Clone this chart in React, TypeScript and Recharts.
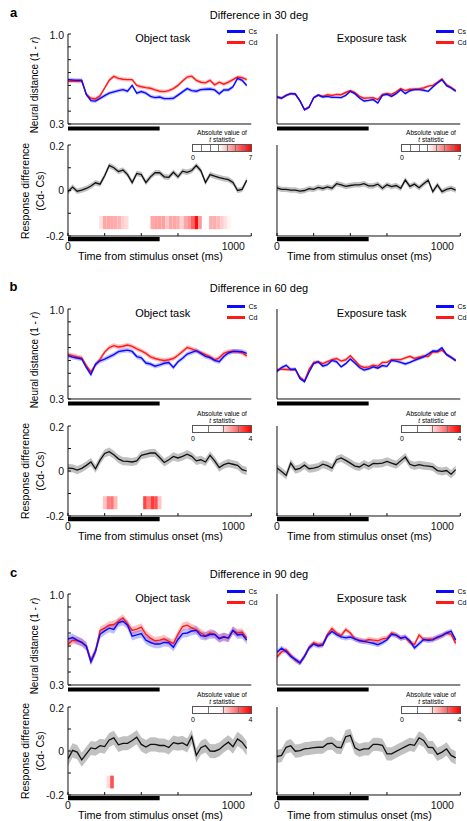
import React from 'react';
import { ComposedChart, Area, Line, XAxis, YAxis, ReferenceArea } from 'recharts';

// time bins (ms after stimulus onset)
const TIME_MS = [0, 25, 50, 75, 100, 125, 150, 175, 200, 225, 250, 275, 300, 325, 350, 375, 400, 425, 450, 475, 500, 525, 550, 575, 600, 625, 650, 675, 700, 725, 750, 775, 800, 825, 850, 875, 900, 925, 950, 975];
const TIME_TICKS = [0, 200, 400, 600, 800, 1000];
const TIME_LABELS = [0, 1000];
const DIST_TICKS = [0.3, 0.4, 0.5, 0.6, 0.7, 0.8, 0.9, 1.0];
const DIST_LABELS = ['0.3', '1.0'];
const DIFF_TICKS = [-0.2, -0.1, 0, 0.1, 0.2];
const DIFF_LABELS = ['-0.2', '0', '0.2'];
const STIM_MS = [0, 500];
const CELL_MS = 20;

// a: difference in 30 deg
const A_OBJ_CS = [0.645, 0.642, 0.640, 0.640, 0.530, 0.482, 0.478, 0.500, 0.520, 0.540, 0.550, 0.560, 0.567, 0.555, 0.600, 0.540, 0.552, 0.540, 0.515, 0.505, 0.510, 0.497, 0.497, 0.500, 0.525, 0.550, 0.575, 0.560, 0.555, 0.567, 0.570, 0.572, 0.565, 0.535, 0.565, 0.565, 0.590, 0.655, 0.640, 0.600];
const A_OBJ_CD = [0.632, 0.635, 0.632, 0.632, 0.530, 0.500, 0.495, 0.520, 0.580, 0.640, 0.670, 0.655, 0.648, 0.645, 0.645, 0.600, 0.590, 0.583, 0.578, 0.565, 0.555, 0.552, 0.560, 0.575, 0.600, 0.635, 0.665, 0.672, 0.640, 0.625, 0.620, 0.640, 0.605, 0.625, 0.610, 0.625, 0.645, 0.665, 0.660, 0.645];
const A_EXP_CS = [0.510, 0.500, 0.523, 0.536, 0.533, 0.480, 0.410, 0.430, 0.505, 0.525, 0.510, 0.515, 0.507, 0.507, 0.505, 0.523, 0.554, 0.536, 0.502, 0.479, 0.484, 0.490, 0.463, 0.523, 0.531, 0.515, 0.536, 0.567, 0.536, 0.559, 0.567, 0.567, 0.562, 0.554, 0.588, 0.619, 0.645, 0.598, 0.580, 0.555];
const A_EXP_CD = [0.510, 0.502, 0.523, 0.536, 0.533, 0.482, 0.413, 0.432, 0.505, 0.525, 0.515, 0.528, 0.522, 0.530, 0.528, 0.545, 0.560, 0.545, 0.515, 0.500, 0.503, 0.505, 0.490, 0.530, 0.538, 0.530, 0.550, 0.575, 0.560, 0.570, 0.572, 0.575, 0.580, 0.595, 0.600, 0.625, 0.650, 0.605, 0.585, 0.560];
const A_OBJ_DIFF = [-0.005, 0.015, -0.003, 0.002, 0.009, 0.020, 0.034, 0.028, 0.065, 0.110, 0.100, 0.083, 0.090, 0.070, 0.035, 0.075, 0.070, 0.035, 0.060, 0.078, 0.078, 0.060, 0.058, 0.080, 0.060, 0.085, 0.080, 0.088, 0.110, 0.087, 0.035, 0.070, 0.063, 0.057, 0.052, 0.048, 0.035, 0.000, 0.005, 0.045];
const A_EXP_DIFF = [0.012, 0.005, 0.005, 0.002, 0.002, -0.003, 0.000, 0.008, 0.005, 0.014, 0.009, 0.016, 0.010, 0.030, 0.025, 0.018, 0.022, 0.025, 0.025, 0.030, 0.020, 0.020, 0.028, 0.010, 0.025, 0.017, 0.022, 0.010, 0.046, 0.018, 0.028, 0.012, 0.030, 0.045, -0.005, 0.025, -0.005, 0.005, 0.010, 0.002];
const A_OBJ_SEM = [0.015, 0.015, 0.012]; // Cs, Cd, difference
const A_EXP_SEM = [0.011, 0.011, 0.012];
const A_OBJ_HEAT_START = [170, 190, 210, 230, 250, 270, 290, 310, 450, 470, 490, 510, 530, 550, 570, 590, 610, 630, 650, 670, 690, 710, 770, 790, 810, 830, 850, 870];
const A_OBJ_HEAT_T = [3.6, 4.5, 4.5, 4.5, 4.4, 4.3, 3.9, 3.7, 4.5, 4.6, 4.6, 4.6, 4.0, 4.5, 4.5, 4.4, 3.8, 4.5, 4.8, 5.5, 6.8, 4.7, 4.4, 4.4, 4.2, 3.9, 3.6, 3.3];
const A_T_MAX = 7;

// b: difference in 60 deg
const B_OBJ_CS = [0.637, 0.626, 0.619, 0.611, 0.545, 0.490, 0.570, 0.597, 0.610, 0.628, 0.645, 0.668, 0.675, 0.680, 0.670, 0.630, 0.620, 0.580, 0.572, 0.555, 0.565, 0.578, 0.583, 0.545, 0.590, 0.617, 0.650, 0.662, 0.676, 0.655, 0.632, 0.622, 0.600, 0.590, 0.630, 0.658, 0.670, 0.670, 0.668, 0.655];
const B_OBJ_CD = [0.645, 0.637, 0.628, 0.620, 0.560, 0.510, 0.565, 0.610, 0.665, 0.700, 0.715, 0.705, 0.710, 0.720, 0.710, 0.690, 0.675, 0.655, 0.628, 0.615, 0.605, 0.600, 0.605, 0.615, 0.640, 0.670, 0.700, 0.690, 0.675, 0.660, 0.645, 0.628, 0.605, 0.620, 0.655, 0.668, 0.671, 0.670, 0.660, 0.635];
const B_EXP_CS = [0.515, 0.545, 0.562, 0.530, 0.533, 0.460, 0.435, 0.510, 0.575, 0.590, 0.556, 0.567, 0.600, 0.590, 0.550, 0.575, 0.611, 0.580, 0.545, 0.525, 0.535, 0.550, 0.540, 0.560, 0.554, 0.600, 0.595, 0.585, 0.572, 0.585, 0.600, 0.615, 0.627, 0.650, 0.673, 0.672, 0.698, 0.645, 0.624, 0.598];
const B_EXP_CD = [0.528, 0.532, 0.530, 0.528, 0.528, 0.470, 0.440, 0.530, 0.585, 0.590, 0.575, 0.590, 0.605, 0.615, 0.595, 0.605, 0.637, 0.600, 0.560, 0.545, 0.550, 0.563, 0.555, 0.585, 0.585, 0.605, 0.606, 0.606, 0.620, 0.632, 0.615, 0.625, 0.635, 0.630, 0.665, 0.665, 0.680, 0.647, 0.625, 0.601];
const B_OBJ_DIFF = [0.013, 0.012, 0.004, 0.012, 0.025, 0.040, 0.010, 0.048, 0.078, 0.086, 0.072, 0.054, 0.044, 0.043, 0.040, 0.045, 0.070, 0.075, 0.080, 0.080, 0.060, 0.038, 0.050, 0.065, 0.058, 0.065, 0.075, 0.065, 0.045, 0.050, 0.040, 0.070, 0.045, 0.015, 0.028, 0.035, 0.030, 0.025, 0.006, 0.000];
const B_EXP_DIFF = [0.013, -0.002, -0.020, 0.035, 0.006, 0.012, 0.026, 0.010, 0.013, 0.018, 0.030, 0.024, 0.013, 0.050, 0.058, 0.047, 0.035, 0.022, 0.018, 0.031, 0.021, 0.034, 0.033, 0.035, 0.043, 0.035, 0.028, 0.045, 0.062, 0.030, 0.023, 0.028, 0.024, 0.022, 0.018, 0.002, -0.002, 0.002, -0.014, 0.006];
const B_OBJ_SEM = [0.018, 0.018, 0.018];
const B_EXP_SEM = [0.013, 0.013, 0.018];
const B_OBJ_HEAT_START = [190, 210, 230, 250, 410, 430, 450, 470, 490];
const B_OBJ_HEAT_T = [2.3, 2.9, 3.0, 2.4, 3.4, 2.9, 3.5, 3.3, 2.3];
const B_T_MAX = 4;

// c: difference in 90 deg
const C_OBJ_CS = [0.654, 0.665, 0.645, 0.628, 0.598, 0.478, 0.560, 0.690, 0.716, 0.737, 0.727, 0.780, 0.790, 0.760, 0.675, 0.685, 0.695, 0.645, 0.627, 0.615, 0.615, 0.628, 0.625, 0.590, 0.650, 0.695, 0.700, 0.715, 0.720, 0.680, 0.675, 0.688, 0.688, 0.657, 0.669, 0.661, 0.720, 0.685, 0.690, 0.645];
const C_OBJ_CD = [0.611, 0.645, 0.640, 0.628, 0.598, 0.490, 0.560, 0.720, 0.738, 0.760, 0.765, 0.790, 0.815, 0.770, 0.720, 0.730, 0.745, 0.690, 0.660, 0.640, 0.645, 0.655, 0.635, 0.620, 0.690, 0.750, 0.760, 0.740, 0.725, 0.700, 0.678, 0.700, 0.692, 0.660, 0.674, 0.660, 0.720, 0.700, 0.705, 0.660];
const C_EXP_CS = [0.552, 0.583, 0.557, 0.520, 0.497, 0.470, 0.520, 0.585, 0.615, 0.600, 0.607, 0.680, 0.712, 0.688, 0.670, 0.663, 0.669, 0.655, 0.640, 0.636, 0.628, 0.621, 0.610, 0.626, 0.648, 0.690, 0.684, 0.660, 0.669, 0.640, 0.586, 0.618, 0.650, 0.643, 0.647, 0.668, 0.680, 0.700, 0.715, 0.645];
const C_EXP_CD = [0.516, 0.555, 0.570, 0.530, 0.490, 0.470, 0.520, 0.590, 0.625, 0.610, 0.615, 0.690, 0.735, 0.700, 0.680, 0.727, 0.700, 0.655, 0.645, 0.635, 0.650, 0.645, 0.640, 0.655, 0.660, 0.700, 0.684, 0.660, 0.668, 0.625, 0.612, 0.684, 0.650, 0.652, 0.655, 0.662, 0.680, 0.700, 0.690, 0.620];
const C_OBJ_DIFF = [-0.036, 0.003, -0.005, -0.040, -0.013, 0.014, 0.010, 0.024, 0.020, 0.050, 0.060, 0.028, 0.035, 0.035, 0.048, 0.063, 0.030, 0.018, 0.030, 0.030, 0.025, 0.025, 0.016, 0.038, 0.033, 0.037, 0.025, 0.065, -0.020, 0.015, 0.025, 0.000, -0.001, 0.007, 0.025, 0.040, 0.020, 0.055, 0.040, 0.012];
const C_EXP_DIFF = [-0.025, -0.020, 0.017, 0.024, -0.001, 0.002, 0.010, 0.012, 0.015, 0.017, 0.017, 0.033, 0.036, 0.018, 0.015, 0.065, 0.071, 0.015, 0.003, 0.010, 0.010, 0.030, 0.030, 0.026, -0.013, -0.013, -0.002, 0.009, 0.020, 0.030, 0.026, 0.060, 0.048, 0.017, 0.015, -0.015, -0.005, 0.010, -0.020, -0.031];
const C_OBJ_SEM = [0.032, 0.030, 0.032];
const C_EXP_SEM = [0.020, 0.020, 0.030];
const C_OBJ_HEAT_START = [210, 230];
const C_OBJ_HEAT_T = [2.1, 3.3];
const C_T_MAX = 4;

const FONT = '"Liberation Sans", Arial, Helvetica, sans-serif';
const INK = '#111';
const BLUE = '#0a0aff';
const RED = '#ff1a1a';
const HEAT_WHITE = 0.45; // fraction of the colour scale that stays white

const ROWS = [
  {
    letter: 'a', title: 'Difference in 30 deg', tMax: A_T_MAX,
    panels: [
      { cs: A_OBJ_CS, cd: A_OBJ_CD, diff: A_OBJ_DIFF, sem: A_OBJ_SEM, heatStart: A_OBJ_HEAT_START, heatT: A_OBJ_HEAT_T },
      { cs: A_EXP_CS, cd: A_EXP_CD, diff: A_EXP_DIFF, sem: A_EXP_SEM, heatStart: [], heatT: [] },
    ],
  },
  {
    letter: 'b', title: 'Difference in 60 deg', tMax: B_T_MAX,
    panels: [
      { cs: B_OBJ_CS, cd: B_OBJ_CD, diff: B_OBJ_DIFF, sem: B_OBJ_SEM, heatStart: B_OBJ_HEAT_START, heatT: B_OBJ_HEAT_T },
      { cs: B_EXP_CS, cd: B_EXP_CD, diff: B_EXP_DIFF, sem: B_EXP_SEM, heatStart: [], heatT: [] },
    ],
  },
  {
    letter: 'c', title: 'Difference in 90 deg', tMax: C_T_MAX,
    panels: [
      { cs: C_OBJ_CS, cd: C_OBJ_CD, diff: C_OBJ_DIFF, sem: C_OBJ_SEM, heatStart: C_OBJ_HEAT_START, heatT: C_OBJ_HEAT_T },
      { cs: C_EXP_CS, cd: C_EXP_CD, diff: C_EXP_DIFF, sem: C_EXP_SEM, heatStart: [], heatT: [] },
    ],
  },
];

// page layout (plot rectangles in px)
const COLS = [
  { x0: 67.7, x1: 251, task: 'Object task', yLabels: true },
  { x0: 276.7, x1: 460, task: 'Exposure task', yLabels: false },
];
const ROW_Y = [
  { title: 15, letter: 11.5, top: [34, 124], bottom: [145, 236] },
  { title: 288, letter: 286, top: [309, 399], bottom: [426, 516] },
  { title: 574, letter: 571.5, top: [594, 685], bottom: [707, 795] },
];
const YW = 34;
const PAD = 4;

function frame(x0: number, x1: number, y0: number, y1: number, xh: number) {
  return {
    left: x0 - YW - PAD,
    top: y0 - PAD,
    width: x1 - x0 + YW + 2 * PAD,
    height: y1 - y0 + xh + 2 * PAD,
    margin: { top: PAD, right: PAD, bottom: PAD, left: PAD },
  };
}

function heatColor(t: number, max: number) {
  const f = Math.min(1, Math.max(0, (t / max - HEAT_WHITE) / (1 - HEAT_WHITE)));
  const g = Math.round(255 * (1 - f));
  return `rgb(255,${g},${g})`;
}

const fmt = (v: number) => (Math.abs(v) < 1e-9 ? '0' : v.toFixed(1));

function Txt({ x, y, size, children, rotate, weight, anchor }: any) {
  const tx = anchor === 'start' ? '0' : '-50%';
  return (
    <div
      style={{
        position: 'absolute', left: x, top: y, fontSize: size, fontWeight: weight,
        lineHeight: 1, whiteSpace: 'nowrap',
        transform: `translate(${tx},-50%)${rotate ? ' rotate(-90deg)' : ''}`,
      }}
    >
      {children}
    </div>
  );
}

function DistanceChart({ col, yr, p }: any) {
  const rows = TIME_MS.map((t, i) => ({
    t,
    cs: p.cs[i],
    cd: p.cd[i],
    csBand: [p.cs[i] - p.sem[0], p.cs[i] + p.sem[0]],
    cdBand: [p.cd[i] - p.sem[1], p.cd[i] + p.sem[1]],
  }));
  const f = frame(col.x0, col.x1, yr[0], yr[1], 12);
  const perPx = (DIST_TICKS[DIST_TICKS.length - 1] - DIST_TICKS[0]) / (yr[1] - yr[0]);
  return (
    <div style={{ position: 'absolute', left: f.left, top: f.top }}>
      <ComposedChart width={f.width} height={f.height} data={rows} margin={f.margin}>
        <XAxis dataKey="t" type="number" domain={[0, 1000]} ticks={TIME_TICKS} tick={false}
          tickSize={-3} height={12} axisLine={{ stroke: INK }} tickLine={{ stroke: INK }} allowDataOverflow />
        <YAxis type="number" domain={[0.3, 1]} ticks={DIST_TICKS} width={YW} tickSize={-3} tickMargin={7}
          axisLine={{ stroke: INK }} tickLine={{ stroke: INK }} allowDataOverflow
          tick={col.yLabels ? { fill: INK, fontSize: 10.5 } : false}
          tickFormatter={(v: number) => (DIST_LABELS.includes(fmt(v)) ? fmt(v) : '')} />
        <Area type="linear" dataKey="cdBand" stroke="none" fill={RED} fillOpacity={0.28} isAnimationActive={false} />
        <Area type="linear" dataKey="csBand" stroke="none" fill={BLUE} fillOpacity={0.26} isAnimationActive={false} />
        <Line type="linear" dataKey="cd" stroke={RED} strokeWidth={1.4} dot={false} activeDot={false} isAnimationActive={false} />
        <Line type="linear" dataKey="cs" stroke={BLUE} strokeWidth={1.4} dot={false} activeDot={false} isAnimationActive={false} />
        <ReferenceArea x1={STIM_MS[0]} x2={STIM_MS[1]} y1={0.3 - 2.5 * perPx} y2={0.3 - 6.5 * perPx}
          fill="#000" fillOpacity={1} stroke="none" ifOverflow="visible" />
      </ComposedChart>
    </div>
  );
}

const timeTick = (props: any) => {
  const { x, y, payload } = props;
  const v = payload.value;
  if (!TIME_LABELS.includes(v)) return <g />;
  return (
    <text x={x + (v === 1000 ? -6 : 0)} y={y} dy="0.71em" textAnchor="middle" fontSize={10.5} fill={INK}>
      {v}
    </text>
  );
};

function DiffChart({ col, yr, p, tMax }: any) {
  const rows = TIME_MS.map((t, i) => ({ t, d: p.diff[i], band: [p.diff[i] - p.sem[2], p.diff[i] + p.sem[2]] }));
  const f = frame(col.x0, col.x1, yr[0], yr[1], 24);
  const perPx = 0.4 / (yr[1] - yr[0]);
  return (
    <div style={{ position: 'absolute', left: f.left, top: f.top }}>
      <ComposedChart width={f.width} height={f.height} data={rows} margin={f.margin}>
        <XAxis dataKey="t" type="number" domain={[0, 1000]} ticks={TIME_TICKS} tick={timeTick}
          tickSize={-3} tickMargin={10} height={24} axisLine={{ stroke: INK }} tickLine={{ stroke: INK }} allowDataOverflow />
        <YAxis type="number" domain={[-0.2, 0.2]} ticks={DIFF_TICKS} width={YW} tickSize={-3} tickMargin={7}
          axisLine={{ stroke: INK }} tickLine={{ stroke: INK }} allowDataOverflow
          tick={col.yLabels ? { fill: INK, fontSize: 10.5 } : false}
          tickFormatter={(v: number) => (DIFF_LABELS.includes(fmt(v)) ? fmt(v) : '')} />
        {p.heatStart.map((s: number, i: number) => (
          <ReferenceArea key={s} x1={s} x2={s + CELL_MS} y1={-0.17} y2={-0.112}
            fill={heatColor(p.heatT[i], tMax)} fillOpacity={1} stroke="none" />
        ))}
        <Area type="linear" dataKey="band" stroke="none" fill="#bababa" fillOpacity={0.9} isAnimationActive={false} />
        <Line type="linear" dataKey="d" stroke={INK} strokeWidth={1.3} dot={false} activeDot={false} isAnimationActive={false} />
        <ReferenceArea x1={STIM_MS[0]} x2={STIM_MS[1]} y1={-0.2 - 1 * perPx} y2={-0.2 - 5.2 * perPx}
          fill="#000" fillOpacity={1} stroke="none" ifOverflow="visible" />
      </ComposedChart>
    </div>
  );
}

function SeriesLegend({ x1, y0 }: any) {
  const items = [
    { name: 'Cs', color: BLUE, dy: -3 },
    { name: 'Cd', color: RED, dy: 8 },
  ];
  return (
    <>
      {items.map((it) => (
        <React.Fragment key={it.name}>
          <div style={{ position: 'absolute', left: x1 - 24.5, top: y0 + it.dy - 1.5, width: 18.5, height: 3, background: it.color }} />
          <Txt x={x1 - 2.5} y={y0 + it.dy} size={7} anchor="start">{it.name}</Txt>
        </React.Fragment>
      ))}
    </>
  );
}

function ColorBar({ x1, y0, max }: any) {
  const left = x1 - 59;
  const w = 60;
  const ticks = Array.from({ length: max - 1 }, (_, i) => i + 1);
  return (
    <>
      <Txt x={left + w / 2} y={y0 - 12} size={6.5}>Absolute value of</Txt>
      <Txt x={left + w / 2} y={y0 - 4.8} size={6.5}><i>t</i> statistic</Txt>
      <div
        style={{
          position: 'absolute', left, top: y0 - 1, width: w, height: 7.5, boxSizing: 'border-box',
          border: '0.8px solid #555',
          background: `linear-gradient(to right, #fff 0%, #fff ${HEAT_WHITE * 100}%, rgb(255,0,0) 100%)`,
        }}
      >
        {ticks.map((k) => (
          <div key={k} style={{ position: 'absolute', left: (k / max) * w - 0.5, top: 0, height: '100%', borderLeft: '0.8px dashed #777' }} />
        ))}
      </div>
      <Txt x={left + 1} y={y0 + 11.5} size={7}>0</Txt>
      <Txt x={left + w - 1.5} y={y0 + 11.5} size={7}>{max}</Txt>
    </>
  );
}

function FigureRow({ row, ry }: any) {
  return (
    <>
      <Txt x={13.5} y={ry.letter} size={13} weight="bold">{row.letter}</Txt>
      <Txt x={259} y={ry.title} size={11}>{row.title}</Txt>
      {COLS.map((col, ci) => {
        const p = row.panels[ci];
        return (
          <React.Fragment key={ci}>
            <DistanceChart col={col} yr={ry.top} p={p} />
            <DiffChart col={col} yr={ry.bottom} p={p} tMax={row.tMax} />
            <Txt x={col.x0 + 95} y={ry.top[0] + 4} size={11}>{col.task}</Txt>
            <SeriesLegend x1={col.x1} y0={ry.top[0]} />
            <ColorBar x1={col.x1} y0={ry.bottom[0]} max={row.tMax} />
            <Txt x={(col.x0 + col.x1) / 2 - 9} y={ry.bottom[1] + 19.5} size={10.8}>Time from stimulus onset (ms)</Txt>
            {col.yLabels && (
              <>
                <Txt x={35} y={(ry.top[0] + ry.top[1]) / 2 + 6} size={10} rotate>
                  Neural distance (1 - <i>r</i>)
                </Txt>
                <Txt x={25} y={(ry.bottom[0] + ry.bottom[1]) / 2} size={10.5} rotate>Response difference</Txt>
                <Txt x={39.5} y={(ry.bottom[0] + ry.bottom[1]) / 2} size={10.5} rotate>(Cd- Cs)</Txt>
              </>
            )}
          </React.Fragment>
        );
      })}
    </>
  );
}

export default function App() {
  return (
    <div
      style={{
        position: 'absolute', left: 0, top: 0, width: 467, height: 821, overflow: 'hidden',
        background: '#fff', fontFamily: FONT, color: '#000',
      }}
    >
      {ROWS.map((row, i) => (
        <FigureRow key={row.letter} row={row} ry={ROW_Y[i]} />
      ))}
    </div>
  );
}
